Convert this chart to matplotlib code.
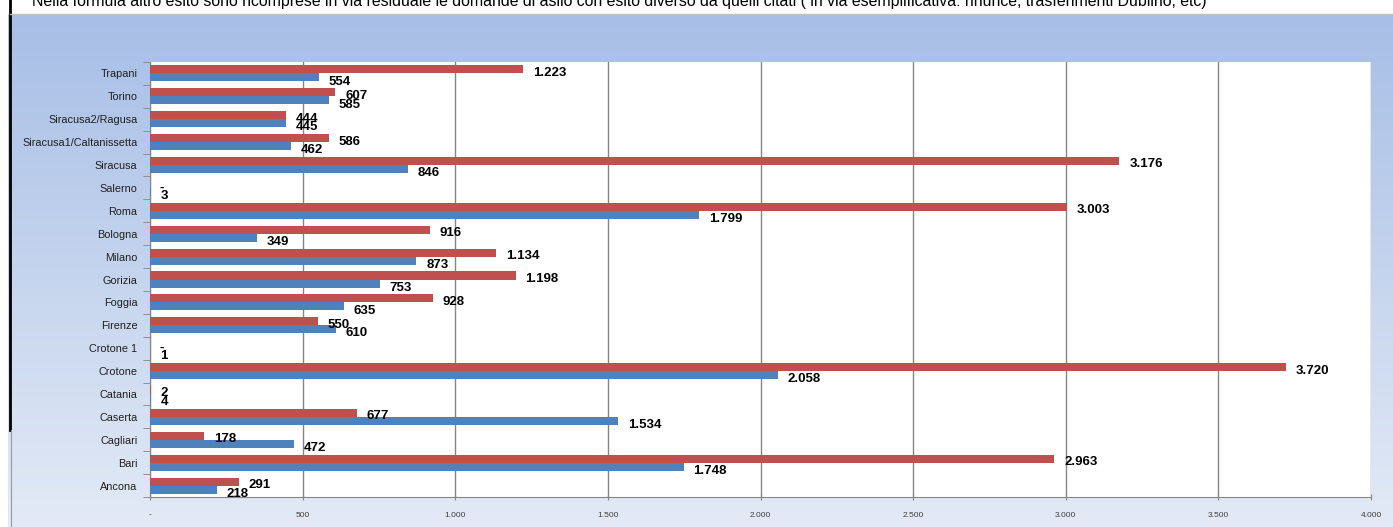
import numpy as np
import matplotlib
matplotlib.use("Agg")
import matplotlib.pyplot as plt
from matplotlib.lines import Line2D

# data (top to bottom as in the picture)
sedi = ["Trapani", "Torino", "Siracusa2/Ragusa", "Siracusa1/Caltanissetta", "Siracusa",
        "Salerno", "Roma", "Bologna", "Milano", "Gorizia", "Foggia", "Firenze",
        "Crotone 1", "Crotone", "Catania", "Caserta", "Cagliari", "Bari", "Ancona"]
rossi = [1223, 607, 444, 586, 3176, 0, 3003, 916, 1134, 1198, 928, 550,
         0, 3720, 2, 677, 178, 2963, 291]
blu = [554, 585, 445, 462, 846, 3, 1799, 349, 873, 753, 635, 610,
       1, 2058, 4, 1534, 472, 1748, 218]
xticks = [0, 500, 1000, 1500, 2000, 2500, 3000, 3500, 4000]
nota = ("Nella formula altro esito sono ricomprese in via residuale le domande di asilo con esito "
        "diverso da quelli citati ( in via esemplificativa: rinunce, trasferimenti Dublino, etc)")

RED = "#C0504D"
BLUE = "#4F81BD"
W, H = 1393, 527


def fmt(v):
    if v == 0:
        return "-"
    return f"{v:,}".replace(",", ".")


fig = plt.figure(figsize=(W / 100, H / 100), dpi=100)
fig.patch.set_facecolor("white")

# gradient panel behind the chart
bg = fig.add_axes([8 / W, 0, 1 - 8 / W, (H - 14) / H], zorder=0)
grad = np.linspace(0, 1, 256).reshape(-1, 1)
top = np.array([0.655, 0.745, 0.902])
bot = np.array([0.890, 0.918, 0.965])
img = top + (bot - top) * grad[:, :, None]
bg.imshow(img, aspect="auto", extent=[0, 1, 0, 1], origin="upper")
bg.set_axis_off()

fig.add_artist(Line2D([9.5 / W, 9.5 / W], [1, (H - 430) / H],
                      color="black", lw=2, transform=fig.transFigure))
fig.add_artist(Line2D([11 / W, 11 / W], [(H - 430) / H, 0],
                      color="#9a9a9a", lw=0.8, transform=fig.transFigure))
fig.add_artist(Line2D([10 / W, 1], [(H - 13.5) / H, (H - 13.5) / H],
                      color="#c0c0c0", lw=1, transform=fig.transFigure))

fig.text(32 / W, 1 - 6 / H, nota, fontsize=11.4, family="Liberation Sans",
         va="baseline", ha="left", color="black")

ax = fig.add_axes([150 / W, (H - 497) / H, (1371 - 150) / W, (497 - 62) / H], zorder=2)
ax.set_facecolor("white")

n = len(sedi)
y = np.arange(n)[::-1]
h = 0.35
ax.barh(y + h / 2, rossi, height=h, color=RED, zorder=3)
ax.barh(y - h / 2, blu, height=h, color=BLUE, zorder=3)

for yi, r, b in zip(y, rossi, blu):
    ax.annotate(fmt(r), (r, yi + h / 2), xytext=(7, -2.5), textcoords="offset points",
                fontsize=9.5, fontweight="bold", family="Liberation Sans",
                va="center", ha="left", zorder=4)
    ax.annotate(fmt(b), (b, yi - h / 2), xytext=(7, -3), textcoords="offset points",
                fontsize=9.5, fontweight="bold", family="Liberation Sans",
                va="center", ha="left", zorder=4)

ax.set_xlim(0, 4000)
ax.set_ylim(-0.5, n - 0.5)
ax.set_xticks(xticks)
ax.set_xticklabels([fmt(t) for t in xticks], fontsize=6, color="#404040",
                   family="Liberation Sans")
ax.set_yticks(y)
ax.set_yticklabels(sedi, fontsize=7.8, color="#202020", family="Liberation Sans")
ax.tick_params(axis="y", which="major", length=0, pad=9)
ax.set_yticks(np.arange(-0.5, n), minor=True)
ax.tick_params(axis="y", which="minor", length=5, color="#868686", direction="out")
ax.tick_params(axis="x", length=5, color="#868686", direction="inout", pad=8)

ax.grid(axis="x", color="#868686", lw=1, zorder=1)
for s in ["top", "right"]:
    ax.spines[s].set_visible(False)
ax.spines["left"].set_color("#868686")
ax.spines["bottom"].set_color("#868686")

fig.savefig("out.png", dpi=100)
